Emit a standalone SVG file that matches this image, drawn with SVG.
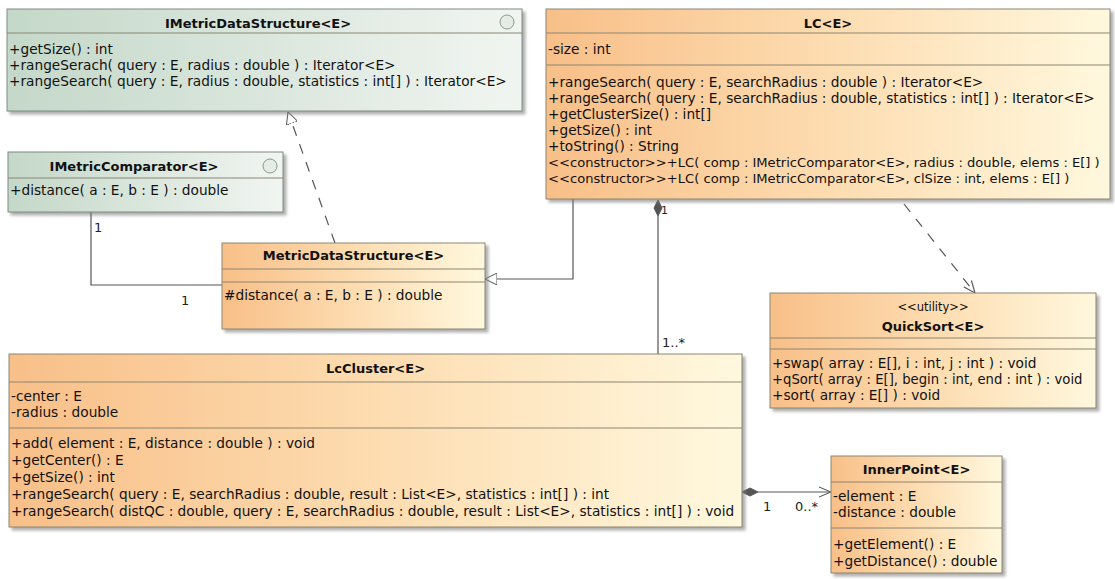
<svg xmlns="http://www.w3.org/2000/svg" width="1115" height="579" viewBox="0 0 1115 579">
  <defs>
    <linearGradient id="gClass" x1="0" y1="0" x2="1" y2="0">
      <stop offset="0" stop-color="#f8bf88"/>
      <stop offset="0.5" stop-color="#fddcb0"/>
      <stop offset="1" stop-color="#fff8de"/>
    </linearGradient>
    <linearGradient id="gIface" x1="0" y1="0" x2="1" y2="0">
      <stop offset="0" stop-color="#c4d8c9"/>
      <stop offset="1" stop-color="#f1f5f1"/>
    </linearGradient>
    <filter id="shadow" x="-5%" y="-5%" width="112%" height="120%">
      <feDropShadow dx="3" dy="3" stdDeviation="1.5" flood-color="#7a7a7a" flood-opacity="0.6"/>
    </filter>
    <marker id="triHollow" viewBox="0 0 12 12" refX="12" refY="6" markerWidth="12" markerHeight="12" markerUnits="userSpaceOnUse" orient="auto">
      <path d="M0,0 L12,6 L0,12 Z" fill="#ffffff" stroke="#555" stroke-width="1" stroke-dasharray="none"/>
    </marker>
    <marker id="vOpen" viewBox="0 0 12 12" refX="12" refY="6" markerWidth="12" markerHeight="12" markerUnits="userSpaceOnUse" orient="auto">
      <path d="M0,1 L12,6 L0,11" fill="none" stroke="#555" stroke-width="1.1" stroke-dasharray="none"/>
    </marker>
  </defs>
  <style>
    .cls { fill: url(#gClass); stroke: #8b8672; stroke-width: 1; filter: url(#shadow); }
    .ifc { fill: url(#gIface); stroke: #7f8a82; stroke-width: 1; filter: url(#shadow); }
    .div { stroke: #8b8672; stroke-width: 1; }
    .title { font-family: "DejaVu Sans", "Liberation Sans", sans-serif; font-size: 13px; font-weight: bold; fill: #111; text-anchor: middle; }
    .stereo { font-family: "DejaVu Sans", "Liberation Sans", sans-serif; font-size: 11.5px; fill: #111; text-anchor: middle; }
    .mem { font-family: "DejaVu Sans", "Liberation Sans", sans-serif; font-size: 13.7px; fill: #111; }
    .mem.ctor { font-size: 13.1px; }
    .mem.tight { font-size: 13.2px; }
    .lbl { font-family: "DejaVu Sans", "Liberation Sans", sans-serif; font-size: 13px; fill: #222; }
    .lbl.small { font-size: 11px; }
    .icon { fill: #e4ece5; stroke: #8a9a8c; stroke-width: 1; }
    .line { fill: none; stroke: #555; stroke-width: 1.2; }
    .dash { fill: none; stroke: #555; stroke-width: 1.2; stroke-dasharray: 10 9; }
    .diam { fill: #555; stroke: #555; stroke-width: 1; }
  </style>

  <!-- connectors -->
  <g id="connectors">
    <!-- MetricDataStructure realizes IMetricDataStructure -->
    <line class="dash" x1="335" y1="243" x2="288" y2="112" marker-end="url(#triHollow)"/>
    <!-- association IMetricComparator - MetricDataStructure -->
    <polyline class="line" points="91,212 91,285 222,285"/>
    <text class="lbl" x="94" y="232">1</text>
    <text class="lbl" x="181" y="305">1</text>
    <!-- LC extends MetricDataStructure -->
    <polyline class="line" points="573,199 573,279 485,279" marker-end="url(#triHollow)"/>
    <!-- LC composition of LcCluster -->
    <line class="line" x1="658" y1="216" x2="658" y2="354"/>
    <polygon class="diam" points="658,200 662,208 658,216 654,208"/>
    <text class="lbl small" x="661" y="214">1</text>
    <text class="lbl" x="662" y="347">1..*</text>
    <!-- LC uses QuickSort -->
    <line class="dash" x1="904" y1="204" x2="975" y2="293" marker-end="url(#vOpen)"/>
    <!-- LcCluster composition of InnerPoint -->
    <polygon class="diam" points="742,492 750,488 758,492 750,496"/>
    <line class="line" x1="758" y1="492" x2="831" y2="492" marker-end="url(#vOpen)"/>
    <text class="lbl" x="763" y="511">1</text>
    <text class="lbl" x="795" y="511">0..*</text>
  </g>

  <!-- IMetricDataStructure -->
  <g id="IMetricDataStructure">
    <rect class="ifc" x="7" y="9" width="515" height="102"/>
    <line class="div" x1="7" y1="33" x2="522" y2="33"/>
    <circle class="icon" cx="507" cy="22" r="7"/>
    <text class="title" x="258" y="28">IMetricDataStructure&lt;E&gt;</text>
    <text class="mem" x="9" y="54">+getSize() : int</text>
    <text class="mem" x="9" y="70">+rangeSerach( query : E, radius : double ) : Iterator&lt;E&gt;</text>
    <text class="mem" x="9" y="86">+rangeSearch( query : E, radius : double, statistics : int[] ) : Iterator&lt;E&gt;</text>
  </g>

  <!-- IMetricComparator -->
  <g id="IMetricComparator">
    <rect class="ifc" x="8" y="152" width="275" height="60"/>
    <line class="div" x1="8" y1="178" x2="283" y2="178"/>
    <circle class="icon" cx="270" cy="166" r="7"/>
    <text class="title" x="134" y="171">IMetricComparator&lt;E&gt;</text>
    <text class="mem" x="10" y="195">+distance( a : E, b : E ) : double</text>
  </g>

  <!-- MetricDataStructure -->
  <g id="MetricDataStructure">
    <rect class="cls" x="222" y="243" width="263" height="86"/>
    <line class="div" x1="222" y1="269" x2="485" y2="269"/>
    <line class="div" x1="222" y1="282" x2="485" y2="282"/>
    <text class="title" x="353.5" y="260">MetricDataStructure&lt;E&gt;</text>
    <text class="mem" x="224" y="300">#distance( a : E, b : E ) : double</text>
  </g>

  <!-- LC -->
  <g id="LC">
    <rect class="cls" x="546" y="9" width="564" height="190"/>
    <line class="div" x1="546" y1="33" x2="1110" y2="33"/>
    <line class="div" x1="546" y1="65" x2="1110" y2="65"/>
    <text class="title" x="828" y="28">LC&lt;E&gt;</text>
    <text class="mem" x="548" y="54">-size : int</text>
    <text class="mem" x="548" y="87">+rangeSearch( query : E, searchRadius : double ) : Iterator&lt;E&gt;</text>
    <text class="mem" x="548" y="103">+rangeSearch( query : E, searchRadius : double, statistics : int[] ) : Iterator&lt;E&gt;</text>
    <text class="mem" x="548" y="119">+getClusterSize() : int[]</text>
    <text class="mem" x="548" y="135">+getSize() : int</text>
    <text class="mem" x="548" y="151">+toString() : String</text>
    <text class="mem ctor" x="548" y="167">&lt;&lt;constructor&gt;&gt;+LC( comp : IMetricComparator&lt;E&gt;, radius : double, elems : E[] )</text>
    <text class="mem ctor" x="548" y="183">&lt;&lt;constructor&gt;&gt;+LC( comp : IMetricComparator&lt;E&gt;, clSize : int, elems : E[] )</text>
  </g>

  <!-- QuickSort -->
  <g id="QuickSort">
    <rect class="cls" x="770" y="293" width="326" height="115"/>
    <line class="div" x1="770" y1="338" x2="1096" y2="338"/>
    <line class="div" x1="770" y1="349" x2="1096" y2="349"/>
    <text class="stereo" x="933" y="311">&lt;&lt;utility&gt;&gt;</text>
    <text class="title" x="933" y="331">QuickSort&lt;E&gt;</text>
    <text class="mem" x="772" y="368">+swap( array : E[], i : int, j : int ) : void</text>
    <text class="mem tight" x="772" y="384">+qSort( array : E[], begin : int, end : int ) : void</text>
    <text class="mem" x="772" y="400">+sort( array : E[] ) : void</text>
  </g>

  <!-- LcCluster -->
  <g id="LcCluster">
    <rect class="cls" x="9" y="354" width="733" height="173"/>
    <line class="div" x1="9" y1="382" x2="742" y2="382"/>
    <line class="div" x1="9" y1="428" x2="742" y2="428"/>
    <text class="title" x="375.5" y="373">LcCluster&lt;E&gt;</text>
    <text class="mem" x="11" y="401">-center : E</text>
    <text class="mem" x="11" y="417">-radius : double</text>
    <text class="mem" x="11" y="448">+add( element : E, distance : double ) : void</text>
    <text class="mem" x="11" y="465">+getCenter() : E</text>
    <text class="mem" x="11" y="482">+getSize() : int</text>
    <text class="mem" x="11" y="499">+rangeSearch( query : E, searchRadius : double, result : List&lt;E&gt;, statistics : int[] ) : int</text>
    <text class="mem" x="11" y="516">+rangeSearch( distQC : double, query : E, searchRadius : double, result : List&lt;E&gt;, statistics : int[] ) : void</text>
  </g>

  <!-- InnerPoint -->
  <g id="InnerPoint">
    <rect class="cls" x="831" y="456" width="171" height="117"/>
    <line class="div" x1="831" y1="482" x2="1002" y2="482"/>
    <line class="div" x1="831" y1="528" x2="1002" y2="528"/>
    <text class="title" x="916.5" y="474">InnerPoint&lt;E&gt;</text>
    <text class="mem" x="833" y="501">-element : E</text>
    <text class="mem" x="833" y="517">-distance : double</text>
    <text class="mem" x="833" y="549">+getElement() : E</text>
    <text class="mem" x="833" y="566">+getDistance() : double</text>
  </g>
</svg>
